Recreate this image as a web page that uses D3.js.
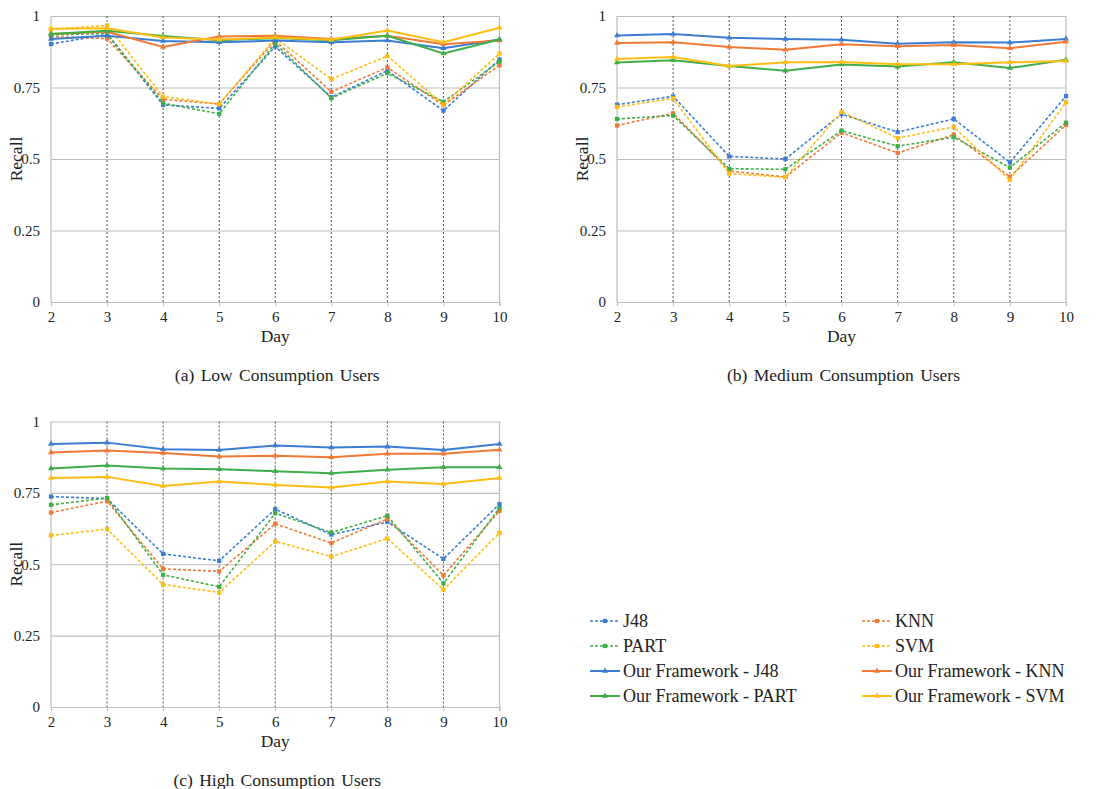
<!DOCTYPE html>
<html>
<head>
<meta charset="utf-8">
<script src="https://cdn.jsdelivr.net/npm/d3@7"></script>
<style>
  body { margin: 0; background: #fff; }
  svg text { font-family: "Liberation Serif", "Times New Roman", serif; fill: #222; }
</style>
</head>
<body>
<svg width="1119" height="789"></svg>
<script>
const days = [2, 3, 4, 5, 6, 7, 8, 9, 10];
const yTicks = [0, 0.25, 0.5, 0.75, 1];
const yTickLabels = ['0', '0.25', '0.5', '0.75', '1'];

const seriesNames = ['J48', 'KNN', 'PART', 'SVM',
  'Our Framework - J48', 'Our Framework - KNN', 'Our Framework - PART', 'Our Framework - SVM'];
const seriesColors = ['#3b7dd0', '#f07a35', '#3fae49', '#ffbd14',
  '#3b7dd0', '#f07a35', '#3fae49', '#ffbd14'];
const seriesDashed = [true, true, true, true, false, false, false, false];

// (a) low consumption users
const lowJ48  = [0.902, 0.936, 0.689, 0.677, 0.893, 0.716, 0.809, 0.669, 0.848];
const lowKNN  = [0.928, 0.921, 0.709, 0.692, 0.914, 0.735, 0.820, 0.688, 0.828];
const lowPART = [0.934, 0.939, 0.695, 0.658, 0.904, 0.713, 0.800, 0.700, 0.841];
const lowSVM  = [0.953, 0.967, 0.718, 0.692, 0.923, 0.779, 0.860, 0.690, 0.869];
const lowOFJ48  = [0.920, 0.931, 0.913, 0.908, 0.914, 0.908, 0.914, 0.887, 0.918];
const lowOFKNN  = [0.937, 0.945, 0.892, 0.928, 0.931, 0.920, 0.931, 0.901, 0.914];
const lowOFPART = [0.937, 0.948, 0.930, 0.915, 0.923, 0.915, 0.931, 0.869, 0.918];
const lowOFSVM  = [0.955, 0.957, 0.925, 0.918, 0.925, 0.917, 0.949, 0.908, 0.959];

// (b) medium consumption users
const medJ48  = [0.690, 0.719, 0.509, 0.500, 0.657, 0.594, 0.640, 0.488, 0.720];
const medKNN  = [0.617, 0.660, 0.458, 0.437, 0.592, 0.521, 0.585, 0.438, 0.619];
const medPART = [0.640, 0.652, 0.466, 0.464, 0.599, 0.545, 0.576, 0.470, 0.627];
const medSVM  = [0.682, 0.712, 0.449, 0.436, 0.665, 0.573, 0.612, 0.427, 0.698];
const medOFJ48  = [0.932, 0.937, 0.924, 0.920, 0.917, 0.903, 0.908, 0.907, 0.920];
const medOFKNN  = [0.906, 0.908, 0.892, 0.882, 0.901, 0.894, 0.899, 0.887, 0.910];
const medOFPART = [0.837, 0.845, 0.825, 0.809, 0.830, 0.823, 0.838, 0.818, 0.847];
const medOFSVM  = [0.850, 0.857, 0.825, 0.838, 0.839, 0.831, 0.831, 0.838, 0.843];

// (c) high consumption users
const highJ48  = [0.737, 0.730, 0.536, 0.512, 0.693, 0.604, 0.648, 0.519, 0.711];
const highKNN  = [0.681, 0.721, 0.484, 0.475, 0.642, 0.574, 0.659, 0.461, 0.687];
const highPART = [0.708, 0.732, 0.463, 0.421, 0.679, 0.611, 0.670, 0.433, 0.697];
const highSVM  = [0.601, 0.623, 0.429, 0.401, 0.580, 0.527, 0.590, 0.411, 0.610];
const highOFJ48  = [0.921, 0.926, 0.903, 0.900, 0.916, 0.909, 0.912, 0.900, 0.921];
const highOFKNN  = [0.891, 0.898, 0.890, 0.877, 0.880, 0.875, 0.887, 0.887, 0.901];
const highOFPART = [0.835, 0.846, 0.835, 0.833, 0.826, 0.819, 0.831, 0.840, 0.840];
const highOFSVM  = [0.802, 0.806, 0.774, 0.790, 0.778, 0.769, 0.790, 0.781, 0.802];

const panels = [
  {caption: '(a) Low Consumption Users', left: 51, right: 499.5, top: 16, bottom: 302,
   series: [lowJ48, lowKNN, lowPART, lowSVM, lowOFJ48, lowOFKNN, lowOFPART, lowOFSVM]},
  {caption: '(b) Medium Consumption Users', left: 617, right: 1066, top: 16, bottom: 302,
   series: [medJ48, medKNN, medPART, medSVM, medOFJ48, medOFKNN, medOFPART, medOFSVM]},
  {caption: '(c) High Consumption Users', left: 51, right: 499.5, top: 421.5, bottom: 707,
   series: [highJ48, highKNN, highPART, highSVM, highOFJ48, highOFKNN, highOFPART, highOFSVM]}
];

const serif = '"Liberation Serif", "Times New Roman", serif';
const svg = d3.select('svg');
const tri = d3.symbol().type(d3.symbolTriangle).size(16);
const sq = d3.symbol().type(d3.symbolSquare).size(18);

panels.forEach(p => {
  const w = p.right - p.left;
  const h = p.bottom - p.top;
  const g = svg.append('g').attr('transform', `translate(${p.left},${p.top})`);

  const x = d3.scaleLinear().domain([2, 10]).range([0, w]);
  const y = d3.scaleLinear().domain([0, 1]).range([h, 0]);

  // horizontal grid
  const yAxis = d3.axisLeft(y).tickValues(yTicks).tickSize(-w)
    .tickFormat((d, i) => yTickLabels[i]).tickPadding(11);
  const yAxisG = g.append('g').call(yAxis).attr('font-family', serif);
  yAxisG.select('.domain').remove();
  yAxisG.selectAll('line').attr('stroke', '#bdbdbd').attr('stroke-width', 1.2);
  yAxisG.selectAll('text').style('font-size', '15px').attr('fill', '#222');

  // vertical dotted lines
  g.selectAll('.vgrid').data(days.slice(1, -1)).enter().append('line')
    .attr('x1', d => x(d)).attr('x2', d => x(d))
    .attr('y1', 0).attr('y2', h)
    .attr('stroke', '#555').attr('stroke-width', 1).attr('stroke-dasharray', '2,2');

  // frame sides
  g.append('line').attr('x1', 0).attr('x2', 0).attr('y1', 0).attr('y2', h)
    .attr('stroke', '#bdbdbd').attr('stroke-width', 1.2);
  g.append('line').attr('x1', w).attr('x2', w).attr('y1', 0).attr('y2', h)
    .attr('stroke', '#bdbdbd').attr('stroke-width', 1.2);

  const xAxis = d3.axisBottom(x).tickValues(days).tickSize(4).tickPadding(5)
    .tickFormat(d3.format('d'));
  const xAxisG = g.append('g').attr('transform', `translate(0,${h})`).call(xAxis)
    .attr('font-family', serif);
  xAxisG.select('.domain').attr('stroke', '#bdbdbd').attr('stroke-width', 1.2);
  xAxisG.selectAll('line').attr('stroke', '#bdbdbd');
  xAxisG.selectAll('text').style('font-size', '15px').attr('fill', '#222');

  g.append('text')
    .attr('x', w / 2).attr('y', h + 40)
    .attr('text-anchor', 'middle')
    .style('font-size', '17.5px')
    .text('Day');

  g.append('text')
    .attr('transform', `translate(${-35},${h / 2}) rotate(-90)`)
    .attr('text-anchor', 'middle')
    .attr('dominant-baseline', 'central')
    .style('font-size', '17.5px')
    .text('Recall');

  g.append('text')
    .attr('x', w / 2 + 2).attr('y', h + 79)
    .attr('text-anchor', 'middle')
    .style('font-size', '17.5px')
    .style('word-spacing', '2px')
    .text(p.caption);

  const line = d3.line().x((d, i) => x(days[i])).y(d => y(d));

  p.series.forEach((vals, si) => {
    const col = seriesColors[si];
    g.append('path').datum(vals)
      .attr('d', line)
      .attr('fill', 'none')
      .attr('stroke', col)
      .attr('stroke-width', seriesDashed[si] ? 1.6 : 2)
      .attr('stroke-dasharray', seriesDashed[si] ? '3,2' : null);
    g.selectAll(null).data(vals).enter().append('path')
      .attr('transform', (d, i) => `translate(${x(days[i])},${y(d)})`)
      .attr('d', seriesDashed[si] ? sq : tri)
      .attr('fill', col);
  });
});

// legend
const legendX = [590, 862];
const legendY = [621, 646, 671, 696];
const lg = svg.append('g');
seriesNames.forEach((name, si) => {
  const col = si % 2;
  const row = Math.floor(si / 2);
  const item = lg.append('g').attr('transform', `translate(${legendX[col]},${legendY[row]})`);
  item.append('line').attr('x1', 0).attr('x2', 30).attr('y1', 0).attr('y2', 0)
    .attr('stroke', seriesColors[si])
    .attr('stroke-width', seriesDashed[si] ? 1.6 : 2)
    .attr('stroke-dasharray', seriesDashed[si] ? '3,2' : null);
  item.append('path').attr('transform', 'translate(15,0)')
    .attr('d', seriesDashed[si] ? sq : tri).attr('fill', seriesColors[si]);
  item.append('text').attr('x', 33).attr('y', 0)
    .attr('dy', '0.35em')
    .style('font-size', '18px')
    .text(name);
});
</script>
</body>
</html>
